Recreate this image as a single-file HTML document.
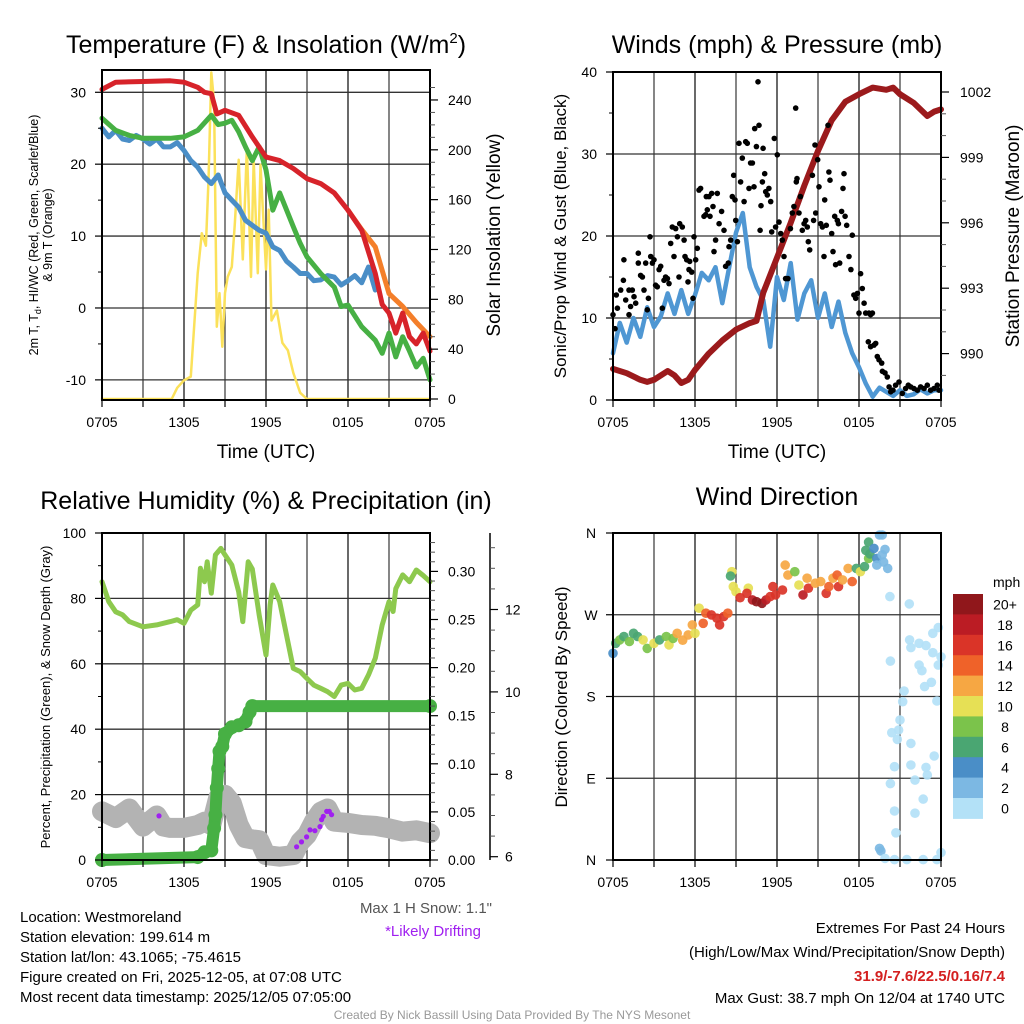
<!DOCTYPE html>
<html><head><meta charset="utf-8"><title>Mesonet Station Meteogram</title>
<style>
html,body{margin:0;padding:0;background:#fff;}
svg{display:block;font-family:"Liberation Sans",Arial,sans-serif;}
</style></head>
<body>
<svg id="chart" xmlns="http://www.w3.org/2000/svg" width="1024" height="1024" viewBox="0 0 1024 1024">
<rect x="0" y="0" width="1024" height="1024" fill="#fff"/>
<g id="layer-grid"></g>
<g id="layer-data"></g>
<g id="layer-axes"></g>

<text x="266" y="53" font-size="25" text-anchor="middle">Temperature (F) &amp; Insolation (W/m<tspan dy="-10" font-size="15">2</tspan><tspan dy="10">)</tspan></text>
<text x="777" y="53" font-size="25" text-anchor="middle">Winds (mph) &amp; Pressure (mb)</text>
<text x="266" y="509" font-size="25" text-anchor="middle">Relative Humidity (%) &amp; Precipitation (in)</text>
<text x="777" y="505" font-size="25" text-anchor="middle">Wind Direction</text>

<text x="266" y="458" font-size="19" text-anchor="middle">Time (UTC)</text>
<text x="777" y="458" font-size="19" text-anchor="middle">Time (UTC)</text>

<g transform="translate(38,235) rotate(-90)">
<text x="0" y="0" font-size="12.5" text-anchor="middle">2m T, T<tspan dy="3" font-size="9">d</tspan><tspan dy="-3">, HI/WC (Red, Green, Scarlet/Blue)</tspan></text>
<text x="0" y="14" font-size="12.5" text-anchor="middle">&amp; 9m T (Orange)</text>
</g>
<text transform="translate(500,235) rotate(-90)" font-size="19" text-anchor="middle">Solar Insolation (Yellow)</text>
<text transform="translate(566,236) rotate(-90)" font-size="17" text-anchor="middle">Sonic/Prop Wind &amp; Gust (Blue, Black)</text>
<text transform="translate(1019,236) rotate(-90)" font-size="19" text-anchor="middle">Station Pressure (Maroon)</text>
<text transform="translate(50,697) rotate(-90)" font-size="13" text-anchor="middle">Percent, Precipitation (Green), &amp; Snow Depth (Gray)</text>
<text transform="translate(567,697) rotate(-90)" font-size="17" text-anchor="middle">Direction (Colored By Speed)</text>

<text x="492" y="913" font-size="15" fill="#555" text-anchor="end">Max 1 H Snow: 1.1"</text>
<text x="433" y="936" font-size="15" fill="#a020f0" text-anchor="middle">*Likely Drifting</text>

<g font-size="15">
<text x="20" y="922">Location: Westmoreland</text>
<text x="20" y="942">Station elevation: 199.614 m</text>
<text x="20" y="962">Station lat/lon: 43.1065; -75.4615</text>
<text x="20" y="982">Figure created on Fri, 2025-12-05, at 07:08 UTC</text>
<text x="20" y="1002">Most recent data timestamp: 2025/12/05 07:05:00</text>
</g>
<g font-size="15" text-anchor="end">
<text x="1005" y="933">Extremes For Past 24 Hours</text>
<text x="1005" y="957">(High/Low/Max Wind/Precipitation/Snow Depth)</text>
<text x="1005" y="981" font-weight="bold" fill="#d42020">31.9/-7.6/22.5/0.16/7.4</text>
<text x="1005" y="1003">Max Gust: 38.7 mph On 12/04 at 1740 UTC</text>
</g>
<text x="512" y="1019" font-size="12" fill="#999" text-anchor="middle">Created By Nick Bassill Using Data Provided By The NYS Mesonet</text>
</svg>

<script>
// ---------- data ----------
const timeTickLabels = ["0705","1305","1905","0105","0705"];

const redHours = [0,1,3,5,6,7,7.5,8,8.4,9,10,11,12,13,14,15,16,17,18,19,20,20.5,21,21.5,22,22.5,23,23.5,24];
const redTemp = [30.4,31.4,31.5,31.6,31.4,30.7,30,29.8,27,27.5,26.8,23.8,21,20.5,19.4,18,17.3,16,13.6,10.8,4.8,0.5,-0.7,-3.5,-0.7,-4,-5,-3.5,-6];
const orangeHours = [18,19,20,21,22,23,24];
const orangeTemp = [13.6,10.9,8.5,2,0.2,-2,-4];
const greenHours = [0,1,2,3,4,5,6,7,8,8.5,9,9.5,10,10.5,11,11.5,12,12.5,13,14,14.5,15,16,17,17.5,18,19,20,20.5,21,21.5,22,22.5,23,23.5,24];
const greenTemp = [26.4,24.7,24,23.6,23.6,23.6,23.8,24.7,26.8,25.5,25.7,26.1,24.5,22.4,20.5,22.4,19.2,13.6,16,11.3,9,7.1,4.8,2.9,0.2,0.4,-2.6,-4.5,-6.3,-3.5,-6.8,-4,-6,-8.2,-7,-10];
const blueHours = [0,0.5,1,1.5,2,2.5,3,3.5,4,4.5,5,5.5,6,6.5,7,7.5,8,8.5,9,9.5,10,10.5,11,11.5,12,12.5,13,13.5,14,14.5,15,15.5,16,16.5,17,17.5,18,18.5,19,19.5,20];
const blueTemp = [25,23.8,24.7,23.5,23.3,24,23.5,22.8,23.5,22.4,22.4,23,21.9,20.5,19.6,18.2,17.3,18.5,16,15,14,12.2,11.5,10.8,10.4,8.5,8,6.5,5.7,4.8,4.8,3.8,3.9,4.5,4.3,3.2,3.8,4.5,3.5,5.7,2.5];
const solarHours = [0,5.1,5.5,6,6.5,7,7.3,7.6,7.8,8,8.2,8.4,8.6,8.8,9,9.2,9.5,9.7,10,10.3,10.6,10.9,11.1,11.4,11.6,12,12.2,12.4,12.8,13.2,13.6,14,14.5,15,24];
const solarWm2 = [0,0,9,15,18,101,133,123,178,262,238,58,85,42,85,98,106,138,192,112,202,98,192,101,188,104,152,63,71,45,39,21,5,0,0];
const tempTicks = [30,20,10,0,-10];
const solarTicks = [0,40,80,120,160,200,240];

const windHours = [0,0.5,1,1.5,2,2.5,3,3.5,4,4.5,5,5.5,6,6.5,7,7.5,8,8.5,9,9.5,10,10.5,11,11.5,12,12.5,13,13.5,14,14.5,15,15.5,16,16.5,17,17.5,18,18.5,19,19.5,20,20.5,21,21.5,22,22.5,23,23.5,24];
const windMph = [5.7,9.4,7,10,7.7,11.3,8.9,10.2,13,10.5,13.4,10.5,12.8,15.5,14.6,16.2,11.8,16.2,20.4,22.8,16.2,13.8,12.2,6.5,15,12.2,16.7,9.8,13,14.6,10,13,8.9,12,8.2,5.7,4,2,0.4,1.5,1,0.5,1.2,0.5,0.7,1.3,0.8,1.2,1.2];
const gustHours = [0,.15,.32,.24,.56,.8,.76,.93,1.17,1.17,1.29,1.41,1.54,1.66,1.85,1.85,2.02,2.15,2.27,2.39,2.51,2.59,2.71,2.76,2.88,3.0,3.12,3.24,3.37,3.49,3.61,3.73,3.85,3.98,4.1,4.22,4.34,4.46,4.59,4.71,4.83,4.88,5.07,5.2,5.27,5.39,5.49,5.56,5.61,5.76,5.85,5.93,6.05,6.17,6.29,6.41,6.66,6.78,6.83,6.9,7.02,7.1,7.22,7.32,7.39,7.51,7.63,7.76,7.95,8.12,8.24,8.44,8.49,8.61,8.73,8.83,8.93,8.98,9.1,9.22,9.34,9.46,9.59,9.71,9.83,9.95,10.07,10.2,10.32,10.37,10.49,10.61,10.68,10.76,10.83,10.93,10.98,11.1,11.17,11.29,11.41,11.54,11.61,11.8,11.9,12.02,12.15,12.27,12.39,12.51,12.63,12.8,12.98,13.12,13.24,13.37,13.41,13.46,13.61,13.71,13.85,13.98,14.1,14.22,14.29,14.39,14.59,14.68,14.78,14.83,14.98,15.07,15.2,15.32,15.44,15.49,15.61,15.73,15.8,15.88,16.0,16.1,16.22,16.29,16.41,16.49,16.59,16.73,16.83,16.9,16.98,17.1,17.27,17.41,17.51,17.63,17.76,17.88,18.0,18.12,18.24,18.37,18.49,18.73,18.85,18.98,18.68,18.85,19.1,19.22,19.34,19.46,19.66,19.71,19.9,20.07,20.2,20.32,20.49,20.68,20.93,21.17,21.41,21.61,21.78,22.02,22.27,22.51,22.76,23.0,23.24,23.49,23.73,23.85];
const gustMph = [10.4,8.7,11.2,12.8,13.4,17.1,14.6,12.2,13.4,10.4,11.4,13.4,12.6,11.8,17.9,16.7,15.2,15.0,13.4,16.7,11.0,12.4,19.9,17.5,16.7,17.1,14.0,13.8,15.9,16.3,11.2,14.6,15.0,14.8,14.2,19.1,21.1,17.5,20.9,19.9,15.0,21.5,21.1,19.5,17.5,17.1,14.4,15.9,16.9,15.6,12.4,19.9,17.1,18.5,25.6,25.8,22.4,22.6,24.8,23.2,24.8,22.4,25.2,23.6,18.1,19.5,25.2,21.5,23.0,20.7,16.3,16.7,18.7,19.5,24.8,27.4,24.4,21.9,19.3,31.3,26.6,29.5,24.2,31.5,31.3,25.8,28.9,28.9,26.0,33.1,30.9,38.8,33.5,20.7,23.7,26.6,30.7,27.6,25.4,25.0,25.8,24.2,20.5,31.9,21.1,29.9,21.7,20.3,19.5,17.5,14.8,14.8,20.9,22.8,23.6,35.6,26.6,27.0,22.8,24.8,20.7,21.5,21.9,21.1,19.3,18.3,27.4,21.9,31.1,22.8,29.3,26.0,21.5,21.1,17.5,24.4,21.3,33.5,27.8,26.8,20.3,18.1,22.4,16.5,21.9,21.5,16.7,23.0,25.8,27.6,22.4,21.3,17.5,15.9,20.1,12.8,12.4,13.0,10.6,15.4,13.6,11.8,10.6,10.6,10.4,10.6,7.1,6.5,6.7,6.9,5.3,4.9,4.5,3.5,3.3,2.8,1.6,1.0,1.2,1.8,2.2,0.8,1.4,1.8,1.6,1.4,1.2,1.6,1.4,1.8,1.2,1.4,1.8,1.2];
const pressHours = [0,1,2,2.5,3,4,4.5,5,5.5,6,7,8,9,10,10.5,11,12,13,14,15,16,17,18,19,20,20.5,21,22,23,23.5,24];
const pressMb = [989.3,989.1,988.8,988.7,988.8,989.2,989.0,988.65,988.8,989.25,990,990.6,991.1,991.4,991.5,992.8,994.4,996,997.7,999.3,1000.7,1001.55,1001.9,1002.2,1002.1,1002.2,1001.9,1001.5,1000.9,1001.1,1001.2];
const windTicks = [0,10,20,30,40];
const pressTicks = [990,993,996,999,1002];

const rhHours = [0,0.5,1,1.5,2,3,4,5,5.5,6,6.5,7,7.2,7.5,7.7,8,8.3,8.7,9,9.5,10,10.3,10.7,11,11.5,12,12.3,12.5,13,13.5,14,14.5,15,15.5,16,16.5,17,17.5,18,18.5,19,19.5,20,20.5,21,21.3,21.5,22,22.5,23,23.5,24];
const rhPct = [85.1,79,75.9,75,72.9,71.3,71.9,72.9,73.5,72.4,76.4,78,89.2,85.1,91.2,81.6,93.3,95.3,93.3,90.2,82,72.9,91.2,89,74.9,62.7,78,84.1,79,68.8,58.6,57.6,55.5,53.5,52.5,51.5,50,53.5,54,52,52.5,56.6,61.7,71.9,79,76,83,87.2,85.1,88.7,87,85.1];
const precipHours = [0,7,7.5,8,8.2,8.3,8.4,8.5,8.6,8.8,9,9.5,10,10.5,10.8,11,24];
const precipIn = [0,0.003,0.008,0.01,0.033,0.047,0.075,0.095,0.113,0.118,0.131,0.138,0.14,0.144,0.154,0.16,0.16];
const snowHours = [0,1,2,3,4,4.5,5,6,7,7.5,8,8.5,9,9.5,10,10.5,11,11.5,12,13,14,14.5,15,15.5,16,16.5,17,18,19,20,21,22,23,24];
const snowIn = [7.1,6.94,7.17,6.73,7.0,6.73,6.7,6.7,6.77,6.85,6.77,7.43,7.5,7.3,6.77,6.45,6.42,6.4,6.04,6.0,6.04,6.36,6.53,6.85,7.09,7.17,6.85,6.82,6.77,6.75,6.69,6.61,6.64,6.57];
const driftHours = [4.17,14.24,14.6,14.97,15.22,15.58,15.95,16.07,16.19,16.44,16.63,16.8];
const driftIn = [6.99,6.24,6.36,6.48,6.65,6.63,6.73,6.9,6.98,7.1,7.1,7.02];
const rhTicks = [0,20,40,60,80,100];
const precipTicks = [0,0.05,0.1,0.15,0.2,0.25,0.3];
const precipTickLabels = ["0.00","0.05","0.10","0.15","0.20","0.25","0.30"];
const snowTicks = [6,8,10,12];

const dirHours = [0.0,0.2,0.5,0.8,1.2,1.5,1.8,2.2,2.5,3.0,3.4,3.9,4.1,4.4,4.7,5.1,5.5,5.8,6.0,6.3,6.6,6.8,7.2,7.6,7.8,8.1,8.4,8.7,8.6,8.8,9.0,9.3,9.9,9.8,10.2,10.5,10.9,11.2,11.5,11.7,11.9,12.4,12.6,12.8,13.3,13.6,13.9,14.3,14.2,14.8,15.2,15.6,15.8,16.1,16.4,16.5,16.8,17.2,17.5,17.8,18.1,18.4,18.7,18.5,18.7,18.8,19.1,19.3,19.5,19.7,19.9,19.7,19.8,20.1,19.3,20.26,21.68,23.8,23.4,21.7,21.8,22.4,22.9,23.4,20.3,24.0,22.4,22.6,23.8,23.3,22.8,21.3,21.2,23.7,21.0,20.4,20.9,20.8,21.8,23.5,20.6,21.8,22.9,22.1,23.0,20.3,22.7,20.6,22.1,20.7,19.5,19.6,19.9,20.6,21.5,22.7,23.7,24.0];
const dirDeg = [227.6,238.6,242.3,246,240.5,249.6,246,242.3,233,238.6,242.3,246,236.8,244,249.6,242,247.8,258.8,249.6,277.2,260.6,271.7,269.8,266.2,258.8,268,271.7,317.4,312.7,301,295.4,288.8,299.2,293.6,286.3,284.4,282.6,286.3,290,301,291.8,297.3,324.7,313.7,317.4,302.7,291.8,299.2,310.2,304.7,306.5,293.6,301,310.2,313.7,301,308.4,321,306.5,321,317.4,323,332,341,350,337,343,332,357.8,357.8,342,336,328,321,324.7,290,282,255.8,249.6,242.3,233.8,238.6,236,228.2,219,223.7,214.6,208.4,214.6,195.6,190.9,186.1,174.3,175,154.1,140.2,143.1,132.8,128.4,114.5,102.7,104.6,102,88,93.6,84.1,67,54,51.5,30,12.8,9.9,1.8,0.4,0.4,0.4,0.4,8.1];
const dirSpeed = [4,6,8,6,8,6,7,10,8,10,7,8,10,8,12,12,12,12,10,10,14,14,16,16,17,16,14,10,6,10,10,16,10,17,18,20,20,18,16,17,16,16,12,13,8,10,18,16,12,13,13,17,14,12,15,16,12,12,15,7,10,7,8,6,6,6,4,4,2,2,2,2,2,2,2,1,1,1,1,1,1,1,1,1,1,1,1,1,1,1,1,1,1,1,1,1,1,1,1,1,1,1,1,1,1,1,1,1,1,1,3,3,1,1,1,1,1,1];
const dirTickLabels = ["N","E","S","W","N"];
const dirTicks = [0,90,180,270,360];
const speedBinLabels = ["20+","18","16","14","12","10","8","6","4","2","0"];
const speedBinColors = ["#90171b","#bb1c24","#da3428","#ef6229","#f6a743","#e6e055","#7bc34b","#4aa672","#4a8ec7","#7cb8e3","#b3e1f7"];

// ---------- helpers ----------
const NS = "http://www.w3.org/2000/svg";
const gGrid = document.getElementById("layer-grid");
const gData = document.getElementById("layer-data");
const gAxes = document.getElementById("layer-axes");
function mk(tag, parent, attrs) {
  const el = document.createElementNS(NS, tag);
  for (const k in attrs) el.setAttribute(k, attrs[k]);
  parent.appendChild(el);
  return el;
}
function line(parent, x1, y1, x2, y2, stroke, w) {
  return mk("line", parent, {x1:x1, y1:y1, x2:x2, y2:y2, stroke:stroke, "stroke-width":w});
}
function txt(parent, x, y, s, size, anchor, fill) {
  const t = mk("text", parent, {x:x, y:y, "font-size":size, "text-anchor":anchor || "start", fill: fill || "#000"});
  t.textContent = s;
  return t;
}
function pathFrom(xs, ys, sx, sy) {
  let d = "";
  for (let i = 0; i < xs.length; i++) d += (i ? "L" : "M") + sx(xs[i]).toFixed(1) + "," + sy(ys[i]).toFixed(1);
  return d;
}

const panels = {
  temp: {x0:102, x1:430, y0:70, y1:400},
  wind: {x0:613, x1:941, y0:72, y1:400},
  rh:   {x0:102, x1:430, y0:533, y1:860},
  dir:  {x0:613, x1:941, y0:533, y1:860}
};
function xScale(p) { return h => p.x0 + h * (p.x1 - p.x0) / 24; }

function drawFrame(p, name) {
  const sx = xScale(p);
  for (let h = 3; h < 24; h += 3) {
    const gl = line(gGrid, sx(h), p.y0, sx(h), p.y1, h % 6 === 0 ? "#444" : "#222", h % 6 === 0 ? 1.6 : 1.1);
    
    
  }
  for (let h = 0; h <= 24; h += 3) {
    const tk = line(gAxes, sx(h), p.y1, sx(h), p.y1 + 7, "#000", 1.2);
    
    
  }
  timeTickLabels.forEach((lab, i) => {
    const t = txt(gAxes, sx(i * 6), p.y1 + 27, lab, 14, "middle");
    
    
  });
  const fr = mk("rect", gAxes, {x:p.x0, y:p.y0, width:p.x1 - p.x0, height:p.y1 - p.y0, fill:"none", stroke:"#000", "stroke-width":2});
  
  
}
function hGrid(p, ys, name) {
  ys.forEach(y => {
    if (y <= p.y0 + 1 || y >= p.y1 - 1) return;
    const gl = line(gGrid, p.x0, y, p.x1, y, "#333", 1.3);
    
    
  });
}
function leftTicks(p, vals, labels, sy, name, minorVals) {
  vals.forEach((v, i) => {
    const y = sy(v);
    const tk = line(gAxes, p.x0 - 7, y, p.x0, y, "#000", 1.2);
    
    
    const t = txt(gAxes, p.x0 - 16, y + 5, labels[i], 14, "end");
    
    
  });
  (minorVals || []).forEach(v => {
    const tk = line(gAxes, p.x0 - 4, sy(v), p.x0, sy(v), "#000", 1);
    
    
  });
}
function rightTicks(xAxis, vals, labels, sy, name, minorVals, labelX) {
  vals.forEach((v, i) => {
    const y = sy(v);
    const tk = line(gAxes, xAxis, y, xAxis + 8, y, "#000", 1.2);
    
    
    const t = txt(gAxes, labelX, y + 5, labels[i], 14, "start");
    
    
  });
  (minorVals || []).forEach(v => {
    const tk = line(gAxes, xAxis, sy(v), xAxis + 5, sy(v), "#555", 1);
    
    
  });
}
function seriesPath(xs, ys, sx, sy, color, w, name) {
  const p = mk("path", gData, {d:pathFrom(xs, ys, sx, sy), fill:"none", stroke:color, "stroke-width":w, "stroke-linejoin":"round", "stroke-linecap":"round"});
  
  
  return p;
}
function range(a, b, s) { const r = []; for (let v = a; v <= b + 1e-9; v += s) r.push(+v.toFixed(4)); return r; }

// ---------- Panel 1: temperature ----------
{
  const p = panels.temp, sx = xScale(p);
  const tTop = 33.1, tBot = -12.8;
  const sy = v => p.y1 - (v - tBot) * (p.y1 - p.y0) / (tTop - tBot);
  const sSolar = v => 399 - v * 1.246;
  drawFrame(p, "temperature");
  hGrid(p, tempTicks.map(sy), "temperature");
  leftTicks(p, tempTicks, tempTicks.map(String), sy, "temperature", range(-5, 25, 10));
  rightTicks(p.x1, solarTicks, solarTicks.map(String), sSolar, "insolation", range(10, 250, 10).filter(v => v % 40), 448);
  seriesPath(solarHours, solarWm2, sx, sSolar, "#fbe15a", 2.5, "insolation-line");
  seriesPath(blueHours, blueTemp, sx, sy, "#4a8ec7", 5, "wind-chill-line");
  seriesPath(greenHours, greenTemp, sx, sy, "#47b044", 5, "dewpoint-line");
  seriesPath(orangeHours, orangeTemp, sx, sy, "#f47f2a", 5, "temperature-9m-line");
  seriesPath(redHours, redTemp, sx, sy, "#d7232a", 5, "temperature-2m-line");
}

// ---------- Panel 2: winds & pressure ----------
{
  const p = panels.wind, sx = xScale(p);
  const sy = v => p.y1 - v * 8.2;
  const sp = v => 92 + (1002 - v) * 21.8;
  drawFrame(p, "winds");
  hGrid(p, windTicks.map(sy), "winds");
  leftTicks(p, windTicks, windTicks.map(String), sy, "wind", range(5, 35, 10));
  rightTicks(p.x1, pressTicks, pressTicks.map(String), sp, "pressure", range(989, 1003, 1).filter(v => (v - 990) % 3 && sp(v) > p.y0 && sp(v) < p.y1), 960);
  seriesPath(windHours, windMph, sx, sy, "#4f97d3", 4.5, "sustained-wind-line");
  seriesPath(pressHours, pressMb, sx, sp, "#9b1a1c", 6, "pressure-line");
  gustHours.forEach((h, i) => {
    const c = mk("circle", gData, {cx:sx(h).toFixed(1), cy:sy(gustMph[i]).toFixed(1), r:2.8, fill:"#000"});
    
    
  });
}

// ---------- Panel 3: RH, precip, snow ----------
{
  const p = panels.rh, sx = xScale(p);
  const sy = v => p.y1 - v * (p.y1 - p.y0) / 100;
  const sPre = v => 860 - v * 962;
  const sSnow = v => 856.7 - (v - 6) * 41.2;
  drawFrame(p, "humidity");
  hGrid(p, rhTicks.map(sy), "humidity");
  leftTicks(p, rhTicks, rhTicks.map(String), sy, "humidity", range(10, 90, 20));
  rightTicks(p.x1, precipTicks, precipTickLabels, sPre, "precipitation", range(0.01, 0.33, 0.01).filter(v => Math.round(v * 100) % 5), 448);
  const ax = line(gAxes, 490, p.y0, 490, p.y1, "#000", 1.5);
  
  
  rightTicks(490, snowTicks, snowTicks.map(String), sSnow, "snow-depth", range(6.5, 13.5, 0.5).filter(v => v % 2), 505);
  seriesPath(snowHours, snowIn, sx, sSnow, "#b3b3b3", 20, "snow-depth-line");
  seriesPath(rhHours, rhPct, sx, sy, "#8dc94e", 5, "relative-humidity-line");
  seriesPath(precipHours, precipIn, sx, sPre, "#47b044", 12, "precipitation-line");
  precipHours.forEach((h, i) => {
    const c = mk("circle", gData, {cx:sx(h).toFixed(1), cy:sPre(precipIn[i]).toFixed(1), r:7, fill:"#47b044"});
    
    
  });
  driftHours.forEach((h, i) => {
    const c = mk("circle", gData, {cx:sx(h).toFixed(1), cy:sSnow(driftIn[i]).toFixed(1), r:2.6, fill:"#a020f0"});
    
    
  });
}

// ---------- Panel 4: wind direction ----------
{
  const p = panels.dir, sx = xScale(p);
  const sy = v => p.y1 - v * (p.y1 - p.y0) / 360;
  drawFrame(p, "wind-direction");
  hGrid(p, dirTicks.map(sy), "wind-direction");
  dirTicks.forEach((v, i) => {
    const tk = line(gAxes, p.x0 - 7, sy(v), p.x0, sy(v), "#000", 1.2);
    
    
    const t = txt(gAxes, 591, sy(v) + 5, dirTickLabels[i], 14, "middle");
    
    
  });
  const binColor = s => speedBinColors[10 - Math.min(10, Math.floor(s / 2))];
  dirHours.forEach((h, i) => {
    const c = mk("circle", gData, {cx:sx(h).toFixed(1), cy:sy(dirDeg[i]).toFixed(1), r:4.8, fill:binColor(dirSpeed[i]), "fill-opacity":0.92});
    
    
  });
  const t0 = txt(gAxes, 993, 587, "mph", 14, "start");
  
  
  speedBinLabels.forEach((lab, i) => {
    const y = 594 + i * 20.4;
    const r = mk("rect", gAxes, {x:953, y:y.toFixed(1), width:30, height:20.9, fill:speedBinColors[i]});
    
    
    const t = txt(gAxes, 1005, y + 15.5, lab, 14, "middle");
    
    
  });
}
</script>
</body></html>
